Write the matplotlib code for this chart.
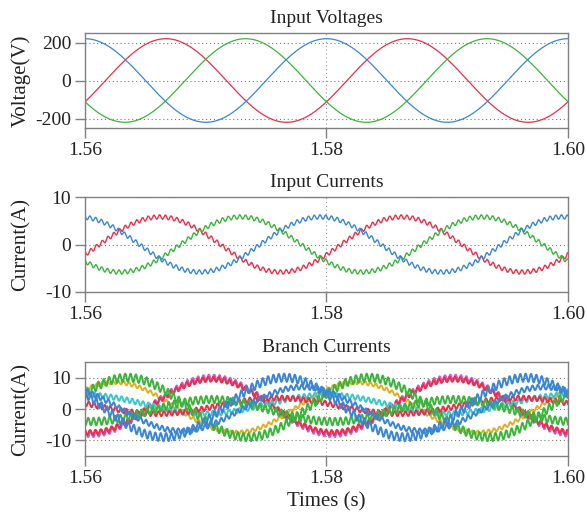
import numpy as np
import matplotlib
matplotlib.use("Agg")
import matplotlib.pyplot as plt

plt.rcParams["font.family"] = ["Liberation Serif", "DejaVu Serif"]
plt.rcParams["axes.unicode_minus"] = False

# values (50 Hz waveforms)
freq = 50.0
t_start, t_end = 1.56, 1.60
x_ticks = [1.56, 1.58, 1.60]
x_tick_labels = ["1.56", "1.58", "1.60"]

# Input voltages: red, green, blue
volt_colors = ["#e8304a", "#3cb43c", "#3a86d6"]
volt_amp = [220, 220, 220]
volt_peak_time = [1.5667, 1.5733, 1.5800]

# Input currents: red, green, blue (with switching ripple)
cur_colors = ["#e8304a", "#3cb43c", "#3a86d6"]
cur_amp = [5.8, 5.8, 5.8]
cur_peak_time = [1.5662, 1.5729, 1.5795]
cur_ripple = [0.45, 0.45, 0.45]
cur_ripple_freq = 2100.0

# Branch currents (9 branches)
br_colors = ["#e0b020", "#cc5ccc", "#e8304a", "#3cc8c8", "#e8304a",
             "#3cb43c", "#3cb43c", "#3a86d6", "#3a86d6"]
br_offset = [0.5, 1.0, 1.0, 1.5, 1.0, -0.5, 0.5, 0.0, 0.5]
br_amp = [8.0, 9.0, 8.5, 3.0, 2.5, 3.5, 9.5, 7.0, 9.5]
br_peak_time = [1.5625, 1.5705, 1.5705, 1.5600, 1.5760, 1.5705,
                1.5635, 1.5780, 1.5765]
br_ripple = [0.6, 1.0, 0.8, 0.8, 0.8, 1.2, 1.3, 0.8, 1.3]
br_ripple_phase = [0.3, 1.1, 2.0, 2.7, 3.4, 4.1, 4.8, 5.5, 0.9]
br_ripple_freq = 2250.0

t = np.linspace(t_start, t_end, 6001)
w = 2 * np.pi * freq

fig = plt.figure(figsize=(5.87, 5.17), dpi=100)
W, H = 587, 517


def make_ax(top, bottom):
    return fig.add_axes([85 / W, 1 - bottom / H, (568 - 85) / W, (bottom - top) / H])


ax1 = make_ax(33, 128)
ax2 = make_ax(197, 292)
ax3 = make_ax(362, 456)

for c, a, tp in zip(volt_colors, volt_amp, volt_peak_time):
    ax1.plot(t, a * np.cos(w * (t - tp)), color=c, lw=0.9)

for c, a, tp, r in zip(cur_colors, cur_amp, cur_peak_time, cur_ripple):
    y = a * np.cos(w * (t - tp)) + r * np.sin(2 * np.pi * cur_ripple_freq * t + tp * 1000)
    ax2.plot(t, y, color=c, lw=1.0)

for c, o, a, tp, r, ph in zip(br_colors, br_offset, br_amp, br_peak_time,
                              br_ripple, br_ripple_phase):
    y = o + a * np.cos(w * (t - tp)) + r * np.sin(2 * np.pi * br_ripple_freq * t + ph)
    ax3.plot(t, y, color=c, lw=1.4)

setup = [
    (ax1, (-250, 250), [-200, 0, 200], "Voltage(V)", "Input Voltages"),
    (ax2, (-10, 10), [-10, 0, 10], "Current(A)", "Input Currents"),
    (ax3, (-15, 15), [-10, 0, 10], "Current(A)", "Branch Currents"),
]
for ax, ylim, yt, ylab, title in setup:
    ax.set_xlim(t_start, t_end)
    ax.set_ylim(*ylim)
    ax.set_xticks(x_ticks)
    ax.set_xticklabels(x_tick_labels)
    ax.set_yticks(yt)
    ax.set_yticklabels([str(v) for v in yt])
    for v in yt:
        ax.axhline(v, color="#777777", ls=(0, (1, 2.5)), lw=0.8, zorder=0.5)
    ax.axvline(1.58, color="#999999", ls=(0, (1, 2.5)), lw=0.8, zorder=0.5)
    for s in ax.spines.values():
        s.set_color("#808080")
        s.set_linewidth(1.0)
    ax.tick_params(direction="out", length=7, width=1.0, color="#808080",
                   labelsize=14, labelcolor="#222222", pad=3)
    ax.set_ylabel(ylab, fontsize=15, color="#222222")
    ax.yaxis.set_label_coords(-0.112, 0.5)
    ax.set_title(title, fontsize=14, color="#222222", pad=7)

ax3.set_xlabel("Times (s)", fontsize=15, color="#222222", labelpad=4)

fig.savefig("out.png", dpi=100)
